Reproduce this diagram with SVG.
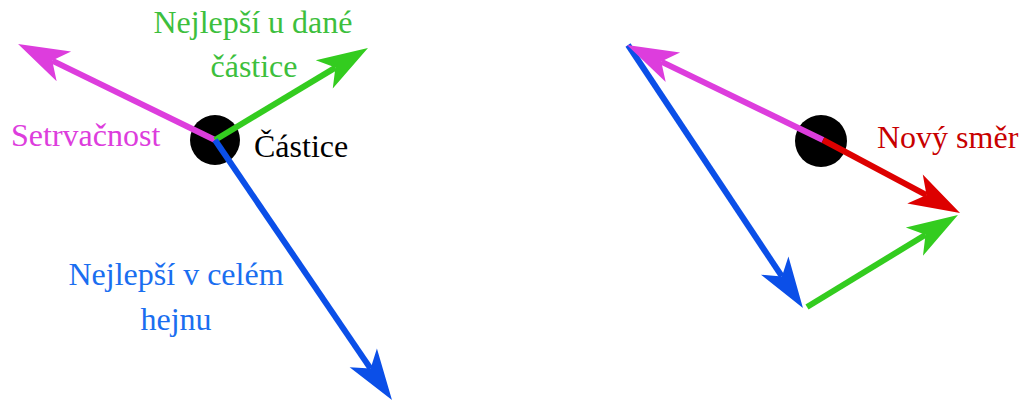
<svg xmlns="http://www.w3.org/2000/svg" width="1023" height="403" viewBox="0 0 1023 403">
<style>
.v{fill:none;stroke-width:6;stroke-linecap:butt}
.t{font-family:"Liberation Serif","Times New Roman",serif;font-size:32px}
</style>
<defs>
<marker id="aM" markerUnits="userSpaceOnUse" orient="auto" refX="0" refY="0" overflow="visible"><path d="M38,0 L-13,-16.5 L0,0 L-13,16.5 Z" fill="#dd3ddd"/></marker>
<marker id="aG" markerUnits="userSpaceOnUse" orient="auto" refX="0" refY="0" overflow="visible"><path d="M38,0 L-13,-16.5 L0,0 L-13,16.5 Z" fill="#33cc1f"/></marker>
<marker id="aB" markerUnits="userSpaceOnUse" orient="auto" refX="0" refY="0" overflow="visible"><path d="M38,0 L-13,-16.5 L0,0 L-13,16.5 Z" fill="#0b4fe8"/></marker>
<marker id="aR" markerUnits="userSpaceOnUse" orient="auto" refX="0" refY="0" overflow="visible"><path d="M38,0 L-13,-16.5 L0,0 L-13,16.5 Z" fill="#dd0000"/></marker>
</defs>
<rect width="1023" height="403" fill="#fff"/>
<g id="particle-left"><circle cx="215" cy="140" r="25" fill="#000"/></g>
<g id="particle-right"><circle cx="821" cy="141" r="26" fill="#000"/></g>
<g id="connectors">
<line class="v" x1="215" y1="140" x2="52.2" y2="60.6" stroke="#dd3ddd" marker-end="url(#aM)"/>
<line class="v" x1="215" y1="140" x2="335.4" y2="67.6" stroke="#33cc1f" marker-end="url(#aG)"/>
<line class="v" x1="215" y1="140" x2="370.6" y2="368.6" stroke="#0b4fe8" marker-end="url(#aB)"/>
<line class="v" x1="628" y1="45" x2="781.9" y2="276.4" stroke="#0b4fe8" marker-end="url(#aB)"/>
<line class="v" x1="807" y1="307" x2="925.5" y2="234.8" stroke="#33cc1f" marker-end="url(#aG)"/>
<line class="v" x1="823" y1="140" x2="661.2" y2="61.6" stroke="#dd3ddd" marker-end="url(#aM)"/>
<line class="v" x1="823" y1="140" x2="926.5" y2="195.1" stroke="#dd0000" marker-end="url(#aR)"/>
</g>
<g id="labels">
<text class="t" x="253" y="33" text-anchor="middle" fill="#3dbf3d">Nejlepší u dané</text>
<text class="t" x="254" y="77" text-anchor="middle" fill="#3dbf3d">částice</text>
<text class="t" x="11" y="146" fill="#dd3ddd">Setrvačnost</text>
<text class="t" x="254" y="157" fill="#000">Částice</text>
<text class="t" x="176" y="285" text-anchor="middle" fill="#1a6ef0">Nejlepší v celém</text>
<text class="t" x="176" y="330" text-anchor="middle" fill="#1a6ef0">hejnu</text>
<text class="t" x="877" y="148" fill="#c80000">Nový směr</text>
</g>
</svg>
